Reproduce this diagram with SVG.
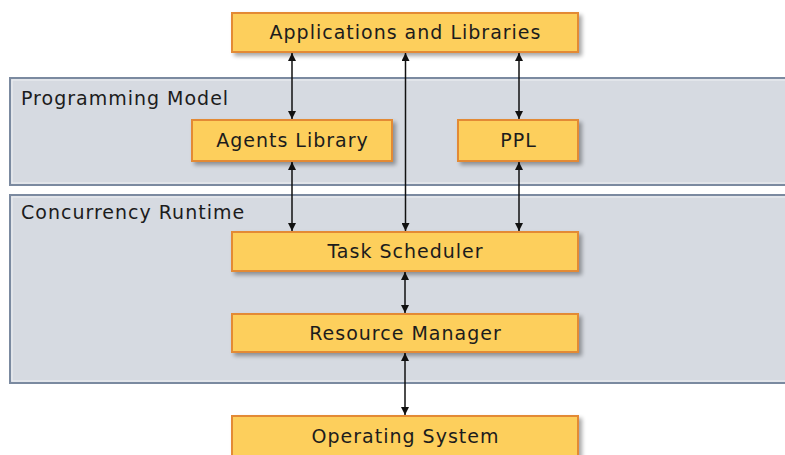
<svg xmlns="http://www.w3.org/2000/svg" width="785" height="455" viewBox="0 0 785 455">
  <defs>
    <filter id="shadow" x="-10%" y="-20%" width="130%" height="160%">
      <feGaussianBlur in="SourceAlpha" stdDeviation="2"/>
      <feOffset dx="3" dy="3" result="b"/>
      <feComponentTransfer><feFuncA type="linear" slope="0.35"/></feComponentTransfer>
      <feMerge><feMergeNode/><feMergeNode in="SourceGraphic"/></feMerge>
    </filter>
    <marker id="head" viewBox="0 0 10 10" refX="10" refY="5" markerWidth="8" markerHeight="8" markerUnits="userSpaceOnUse" orient="auto-start-reverse">
      <path d="M0,0 L10,5 L0,10 z" fill="#111"/>
    </marker>
  </defs>
  <style>
    text { font-family: "DejaVu Sans", Verdana, sans-serif; font-size: 19px; letter-spacing: 1px; fill: #1c1c1c; }
    .panel { fill: #d6dae1; stroke: #7b8aa0; stroke-width: 2; }
    .panel-inner { fill: none; stroke: #eef0f3; stroke-width: 1; }
    .box { fill: #fdcf5c; stroke: #e38a35; stroke-width: 2; filter: url(#shadow); }
    .mid { text-anchor: middle; }
    .conn { stroke: #111; stroke-width: 1.5; fill: none; marker-start: url(#head); marker-end: url(#head); }
  </style>

  <rect width="785" height="455" fill="#ffffff"/>

  <!-- layer panels -->
  <g id="programming-model">
    <rect class="panel" x="10" y="78" width="790" height="107"/>
    <rect class="panel-inner" x="12" y="80" width="790" height="103"/>
    <text x="21" y="105">Programming Model</text>
  </g>
  <g id="concurrency-runtime">
    <rect class="panel" x="10" y="195" width="790" height="188"/>
    <rect class="panel-inner" x="12" y="197" width="790" height="184"/>
    <text x="21" y="219">Concurrency Runtime</text>
  </g>

  <!-- connectors -->
  <g id="connectors">
    <line class="conn" x1="292" y1="53" x2="292" y2="119"/>
    <line class="conn" x1="519" y1="53" x2="519" y2="119"/>
    <line class="conn" x1="405.5" y1="53" x2="405.5" y2="231"/>
    <line class="conn" x1="292" y1="162" x2="292" y2="231"/>
    <line class="conn" x1="519" y1="162" x2="519" y2="231"/>
    <line class="conn" x1="405" y1="272" x2="405" y2="313"/>
    <line class="conn" x1="405" y1="353" x2="405" y2="415"/>
  </g>

  <!-- components -->
  <g id="applications">
    <rect class="box" x="232" y="13" width="346" height="39"/>
    <text class="mid" x="405.5" y="39">Applications and Libraries</text>
  </g>
  <g id="agents-library">
    <rect class="box" x="192" y="120" width="200" height="41"/>
    <text class="mid" x="292.5" y="147">Agents Library</text>
  </g>
  <g id="ppl">
    <rect class="box" x="458" y="120" width="120" height="41"/>
    <text class="mid" x="518.5" y="147">PPL</text>
  </g>
  <g id="task-scheduler">
    <rect class="box" x="232" y="232" width="346" height="39"/>
    <text class="mid" x="405.5" y="258">Task Scheduler</text>
  </g>
  <g id="resource-manager">
    <rect class="box" x="232" y="314" width="346" height="38"/>
    <text class="mid" x="405.5" y="340">Resource Manager</text>
  </g>
  <g id="operating-system">
    <rect class="box" x="232" y="416" width="346" height="50"/>
    <text class="mid" x="405.5" y="443">Operating System</text>
  </g>
</svg>
